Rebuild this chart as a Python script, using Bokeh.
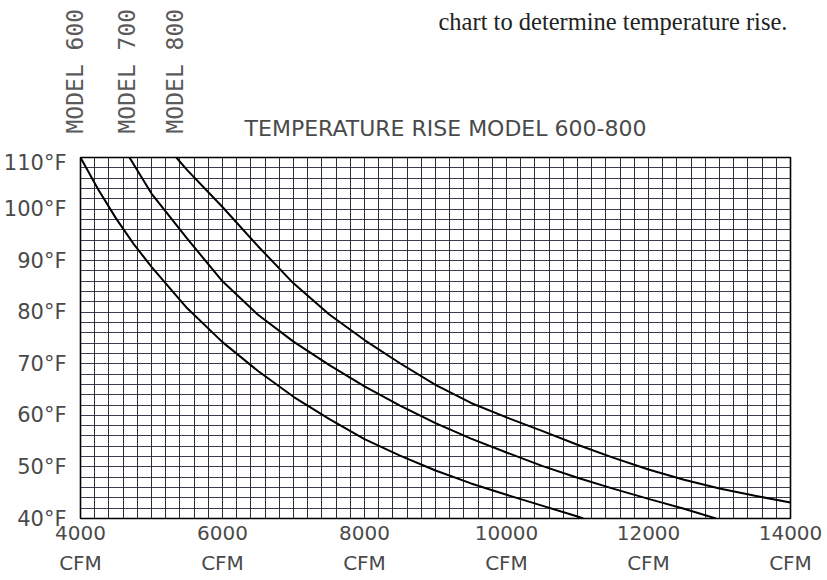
from bokeh.plotting import figure
from bokeh.layouts import column
from bokeh.models import Range1d, SingleIntervalTicker, FixedTicker
from bokeh.core.properties import value
from bokeh.embed import file_html
from bokeh.resources import INLINE
import math

# ---- data ----
cfm_600 = [4000, 4250, 4500, 4750, 5000, 5500, 6000, 6500, 7000, 7500, 8000,
           8500, 9000, 9500, 10000, 10500, 11000, 11080]
temp_600 = [110, 103.8, 98.2, 93.2, 88.8, 80.8, 74.2, 68.6, 63.6, 59.3, 55.4,
            52.2, 49.3, 46.8, 44.6, 42.5, 40.4, 40]

cfm_700 = [4690, 5000, 5500, 6000, 6500, 7000, 7500, 8000, 8500, 9000, 9500,
           10000, 10500, 11000, 11500, 12000, 12500, 12950]
temp_700 = [110, 103, 94.3, 86, 79.5, 74.3, 69.8, 65.6, 61.9, 58.5, 55.5,
            52.8, 50.2, 47.9, 45.8, 43.8, 41.9, 40]

cfm_800 = [5350, 5500, 6000, 6500, 7000, 7500, 8000, 8500, 9000, 9500, 10000,
           10500, 11000, 11500, 12000, 12500, 13000, 13500, 14000]
temp_800 = [110, 107.6, 100.4, 92.8, 85.6, 79.6, 74.6, 70.1, 65.9, 62.4, 59.6,
            57.0, 54.3, 51.8, 49.5, 47.5, 45.8, 44.4, 43.1]

x_ticks = [4000, 6000, 8000, 10000, 12000, 14000]
y_ticks = [40, 50, 60, 70, 80, 90, 100, 110]
model_names = ["MODEL 600", "MODEL 700", "MODEL 800"]
title_text = "TEMPERATURE RISE MODEL 600-800"
caption_text = "chart to determine temperature rise."

GRAY = "#4a4a4a"
FONT = "DejaVu Sans"
W = 819
TOP_H = 150

# ---------- header strip (model labels, title, cropped caption) ----------
top = figure(width=W, height=TOP_H, output_backend="svg", toolbar_location=None,
             x_range=Range1d(0, W), y_range=Range1d(TOP_H, 0),
             x_axis_type=None, y_axis_type=None, min_border=0)
top.grid.visible = False
top.outline_line_color = None
top.background_fill_color = "white"
top.border_fill_color = "white"

top.text(x=[74, 126, 174], y=[133, 133, 133], text=model_names,
         angle=math.pi / 2, text_align="left", text_baseline="middle",
         text_font=value("DejaVu Sans Mono"), text_font_size="23px",
         text_color="#5a5a5a")
top.text(x=[445], y=[128], text=[title_text],
         text_align="center", text_baseline="alphabetic",
         text_font=value(FONT), text_font_size="22px", text_color=GRAY)
top.text(x=[438], y=[21], text=[caption_text],
         text_align="left", text_baseline="alphabetic",
         text_font=value("Liberation Serif"), text_font_size="24.5px",
         text_color="#222222")

# ---------- main chart ----------
p = figure(width=W, height=426, output_backend="svg", toolbar_location=None,
           x_range=Range1d(4000, 14000), y_range=Range1d(40, 110),
           frame_width=710, frame_height=361,
           min_border_left=73, min_border_right=36, min_border_top=7,
           min_border_bottom=58)

p.background_fill_color = "white"
p.border_fill_color = "white"
p.outline_line_color = "black"
p.outline_line_width = 1.6

# grids: every 200 CFM and every 2 degF
p.xgrid.ticker = SingleIntervalTicker(interval=200, num_minor_ticks=0)
p.ygrid.ticker = SingleIntervalTicker(interval=2, num_minor_ticks=0)
p.xgrid.grid_line_color = "#1a1a1a"
p.xgrid.grid_line_width = 1
p.ygrid.grid_line_color = "#2b2536"
p.ygrid.grid_line_width = 1
p.xgrid.grid_line_alpha = 0.9
p.ygrid.grid_line_alpha = 0.9

# axes
p.xaxis.ticker = FixedTicker(ticks=x_ticks)
p.yaxis.ticker = FixedTicker(ticks=y_ticks)
p.xaxis.major_label_overrides = {t: f"{t}\nCFM" for t in x_ticks}
p.yaxis.major_label_overrides = {t: f"{t}°F" for t in y_ticks}
for ax in (p.xaxis, p.yaxis):
    ax.axis_line_color = None
    ax.major_tick_line_color = None
    ax.minor_tick_line_color = None
    ax.major_label_text_font = FONT
    ax.major_label_text_color = GRAY
p.xaxis.major_label_text_font_size = "20px"
p.yaxis.major_label_text_font_size = "21px"
p.xaxis.major_label_standoff = -4
p.xaxis.major_label_text_line_height = 1.25
p.yaxis.major_label_standoff = 8

# curves
for xs, ys in ((cfm_600, temp_600), (cfm_700, temp_700), (cfm_800, temp_800)):
    p.line(xs, ys, line_color="black", line_width=2)

layout = column(column(top), column(p), spacing=0)
open("out.html", "w").write(file_html(layout, INLINE))
